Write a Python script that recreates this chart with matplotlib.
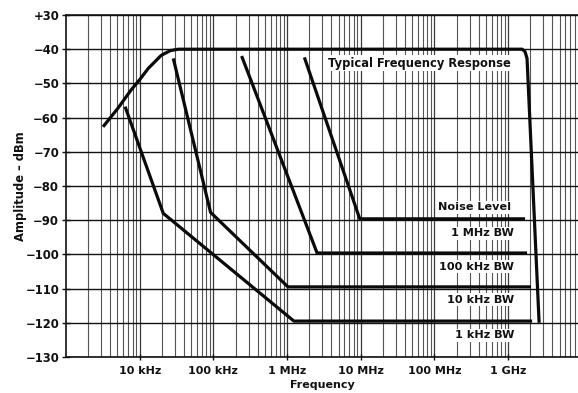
import matplotlib
matplotlib.use("Agg")
import matplotlib.pyplot as plt
from matplotlib.ticker import LogLocator, NullFormatter, FixedLocator, FixedFormatter

# ---- data ----
resp_freq = [3.18e3, 5.09e3, 7.66e3, 1.0e4, 1.31e4, 1.96e4, 2.61e4, 3.35e4, 1.55e9, 1.70e9, 1.81e9, 2.64e9]
resp_amp = [-62.7, -57.2, -51.9, -48.9, -45.6, -41.8, -40.4, -40.0, -40.0, -40.7, -42.7, -120.0]

bw1k_freq = [6.34e3, 2.09e4, 1.24e6, 2.12e9]
bw1k_amp = [-56.8, -88.0, -119.5, -119.5]

bw10k_freq = [2.86e4, 9.16e4, 1.03e6, 2.05e9]
bw10k_amp = [-42.7, -87.7, -109.5, -109.5]

bw100k_freq = [2.42e5, 2.56e6, 1.81e9]
bw100k_amp = [-42.0, -99.6, -99.6]

bw1m_freq = [1.72e6, 9.7e6, 1.70e9]
bw1m_amp = [-42.4, -89.6, -89.6]

x_tick_values = [1e4, 1e5, 1e6, 1e7, 1e8, 1e9]
x_tick_labels = ["10 kHz", "100 kHz", "1 MHz", "10 MHz", "100 MHz", "1 GHz"]
y_tick_values = [-130, -120, -110, -100, -90, -80, -70, -60, -50, -40, -30]
y_tick_labels = ["\u2212130", "\u2212120", "\u2212110", "\u2212100", "\u221290", "\u221280",
                 "\u221270", "\u221260", "\u221250", "\u221240", "+30"]

label_texts = ["Noise Level", "1 MHz BW", "100 kHz BW", "10 kHz BW", "1 kHz BW"]
label_freqs = [1.1e9, 1.2e9, 1.2e9, 1.2e9, 1.2e9]
label_amps = [-86.2, -93.8, -103.6, -113.2, -123.7]

# ---- figure ----
plt.rcParams['font.family'] = ['DejaVu Sans']
fig = plt.figure(figsize=(5.78, 3.93), dpi=100)
ax = fig.add_axes([66 / 578, (393 - 357) / 393, 1 - 66 / 578, (357 - 15) / 393])

ax.set_xscale('log')
ax.set_xlim(1e3, 8.9e9)
ax.set_ylim(-130, -30)

ax.xaxis.set_major_locator(FixedLocator(x_tick_values))
ax.xaxis.set_major_formatter(FixedFormatter(x_tick_labels))
ax.xaxis.set_minor_locator(LogLocator(base=10, subs=[2, 3, 4, 5, 6, 7, 8, 9], numticks=20))
ax.xaxis.set_minor_formatter(NullFormatter())
ax.yaxis.set_major_locator(FixedLocator(y_tick_values))
ax.yaxis.set_major_formatter(FixedFormatter(y_tick_labels))

ax.grid(True, which='major', axis='x', color='#3a3a3a', linewidth=0.9)
ax.grid(True, which='minor', axis='x', color='#555555', linewidth=0.8)
ax.grid(True, which='major', axis='y', color='#111111', linewidth=1.0)
ax.set_axisbelow(True)

ax.tick_params(axis='x', which='major', direction='inout', length=5, width=1, pad=4,
               labelsize=8, colors='#111111')
ax.tick_params(axis='x', which='minor', length=0)
ax.tick_params(axis='y', which='major', direction='inout', length=6, width=1, pad=2,
               labelsize=8.4, colors='#111111')
for lab in ax.get_xticklabels() + ax.get_yticklabels():
    lab.set_fontweight('bold')

for side in ['left', 'bottom', 'top']:
    ax.spines[side].set_color('#111111')
    ax.spines[side].set_linewidth(1.2)
ax.spines['right'].set_visible(False)

ax.set_xlabel("Frequency", fontsize=8, fontweight='bold', color='#111111', labelpad=3)
ax.set_ylabel("Amplitude \u2013 dBm", fontsize=8.3, fontweight='bold', color='#111111', labelpad=-1.5)

lw = 2.3
for fx, fy in [(resp_freq, resp_amp), (bw1k_freq, bw1k_amp), (bw10k_freq, bw10k_amp),
               (bw100k_freq, bw100k_amp), (bw1m_freq, bw1m_amp)]:
    ax.plot(fx, fy, color='#0a0a0a', linewidth=lw, solid_joinstyle='round',
            solid_capstyle='butt', zorder=4)

box = dict(facecolor='white', edgecolor='none', pad=1.0)
ax.text(3.6e6, -44.1, "Typical Frequency Response", fontsize=8.3, fontweight='bold',
        color='#111111', ha='left', va='center', bbox=box, zorder=3)
for t, fx, fy in zip(label_texts, label_freqs, label_amps):
    ax.text(fx, fy, t, fontsize=8.1, fontweight='bold', color='#111111',
            ha='right', va='center', bbox=box, zorder=3)

fig.savefig("out.png", dpi=100)
